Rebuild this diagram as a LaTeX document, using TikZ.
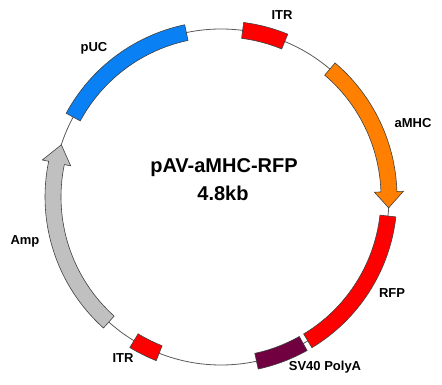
\documentclass[tikz,border=0pt]{standalone}
\usepackage{fontspec}
\setmainfont{Liberation Sans}
\definecolor{pucblue}{RGB}{10,128,245}
\definecolor{itrred}{RGB}{255,0,0}
\definecolor{mhcorange}{RGB}{255,128,0}
\definecolor{polyamaroon}{RGB}{112,0,64}
\definecolor{ampgray}{RGB}{192,192,192}

\begin{document}
\begin{tikzpicture}[
    x=1pt, y=1pt,
    backbone/.style={draw=black!65, line width=0.8pt},
    feature/.style={draw=black!75, line width=0.6pt},
    label/.style={font=\fontsize{13}{13}\selectfont\bfseries, inner sep=0pt},
    title/.style={font=\fontsize{20}{23}\selectfont\bfseries, align=center, inner sep=0pt}
]
    \useasboundingbox (0,0) rectangle (442,385);

    \begin{scope}[shift={(221,188)}]
        % Backbone
        \draw[backbone] (0,0) circle[radius=168];

        % Boxes
        \draw[feature, fill=pucblue] (101.9:160) arc[start angle=101.9, end angle=151.6, radius=160]
            -- (151.6:176) arc[start angle=151.6, end angle=101.9, radius=176] -- cycle;
        \draw[feature, fill=itrred] (67.7:160) arc[start angle=67.7, end angle=82.6, radius=160]
            -- (82.6:176) arc[start angle=82.6, end angle=67.7, radius=176] -- cycle;
        \draw[feature, fill=itrred] (-58.9:160) arc[start angle=-58.9, end angle=-6.5, radius=160]
            -- (-6.5:176) arc[start angle=-6.5, end angle=-58.9, radius=176] -- cycle;
        \draw[feature, fill=polyamaroon] (-77.8:160) arc[start angle=-77.8, end angle=-60.7, radius=160]
            -- (-60.7:176) arc[start angle=-60.7, end angle=-77.8, radius=176] -- cycle;
        \draw[feature, fill=itrred] (-121.2:160) arc[start angle=-121.2, end angle=-111.6, radius=160]
            -- (-111.6:176) arc[start angle=-111.6, end angle=-121.2, radius=176] -- cycle;

        % Arrows
        \draw[feature, fill=mhcorange] (49.6:176) arc[start angle=49.6, end angle=1.8, radius=176]
            -- (1.8:182.5) -- (-3.7:168) -- (1.8:153.5)
            -- (1.8:160) arc[start angle=1.8, end angle=49.6, radius=160] -- cycle;
        \draw[feature, fill=ampgray] (228.1:160) arc[start angle=228.1, end angle=168.3, radius=160]
            -- (168.3:153.5) -- (161.9:168) -- (168.3:182.5)
            -- (168.3:176) arc[start angle=168.3, end angle=228.1, radius=176] -- cycle;
    \end{scope}

    % Labels
    \node[title] (name) at (224,217) {pAV-aMHC-RFP};
    \node[title] (size) at (223,192) {4.8kb};
    \node[label] (itr1) at (282,370) {ITR};
    \node[label] (puc) at (94,337) {pUC};
    \node[label] (amhc) at (413,262) {aMHC};
    \node[label] (rfp) at (392,92) {RFP};
    \node[label] (sv40) at (325,18) {SV40 PolyA};
    \node[label] (itr2) at (123,27) {ITR};
    \node[label] (amp) at (25,144) {Amp};
\end{tikzpicture}
\end{document}
